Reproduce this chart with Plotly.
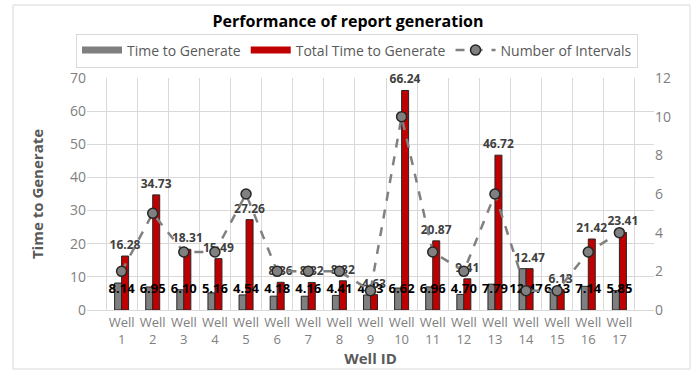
import plotly.graph_objects as go

wells = [f"Well<br>{i}" for i in range(1, 18)]
time_to_generate = [8.14, 6.95, 6.10, 5.16, 4.54, 4.18, 4.16, 4.41, 4.53, 6.62, 6.96, 4.70, 7.79, 12.47, 6.13, 7.14, 5.85]
total_time = [16.28, 34.73, 18.31, 15.49, 27.26, 8.36, 8.32, 8.82, 4.63, 66.24, 20.87, 9.41, 46.72, 12.47, 6.13, 21.42, 23.41]
intervals = [2, 5, 3, 3, 6, 2, 2, 2, 1, 10, 3, 2, 6, 1, 1, 3, 4]

FONT = "Open Sans"
GRAY_TXT = "#808080"
GRAY_BAR = "#7f7f7f"
RED_BAR = "#c00000"
LABEL_Y = 6.0  # vertical position of the in-bar labels (axis units)

W, H = 694, 370
L, R, T, B = 87, 40, 78, 60
PW, PH = W - L - R, H - T - B


def px(x):
    return (x - L) / PW


def py(y):
    return (H - B - y) / PH


fig = go.Figure()
fig.add_trace(go.Bar(
    x=wells, y=time_to_generate, name="Time to Generate", showlegend=False,
    marker=dict(color=GRAY_BAR, line=dict(color="#262626", width=1)),
))
fig.add_trace(go.Bar(
    x=wells, y=total_time, name="Total Time to Generate", showlegend=False,
    marker=dict(color=RED_BAR, line=dict(color="#262626", width=1)),
    text=[f"{v:.2f}" for v in total_time], textposition="outside",
    constraintext="none", textangle=0,
    textfont=dict(family=FONT, size=12, color="#404040", weight="bold"),
    cliponaxis=False,
))
# legend-only entries with wide swatches
fig.add_trace(go.Scatter(x=[None], y=[None], mode="lines", name="Time to Generate",
                         line=dict(color=GRAY_BAR, width=7)))
fig.add_trace(go.Scatter(x=[None], y=[None], mode="lines", name="Total Time to Generate",
                         line=dict(color=RED_BAR, width=7)))
fig.add_trace(go.Scatter(
    x=wells, y=intervals, name="Number of Intervals", yaxis="y2",
    mode="lines+markers",
    line=dict(color="#808080", width=2.5, dash="dash"),
    marker=dict(symbol="circle", size=10, color="#808080", line=dict(color="#262626", width=1.5)),
))
fig.add_trace(go.Scatter(
    x=wells, y=[LABEL_Y] * len(wells), mode="text", showlegend=False,
    text=[f"{v:.2f}" for v in time_to_generate], textposition="middle center",
    textfont=dict(family=FONT, size=13, color="#000000", weight="bold"),
    hoverinfo="skip", cliponaxis=False,
))

fig.update_layout(
    width=W, height=H,
    margin=dict(l=L, r=R, t=T, b=B, autoexpand=False),
    paper_bgcolor="white", plot_bgcolor="white",
    font=dict(family=FONT, color=GRAY_TXT, size=13),
    title=dict(text="<b>Performance of report generation</b>", x=348 / W, xanchor="center",
               y=1 - 21 / H, yanchor="middle", font=dict(size=16, color="#000000", family=FONT)),
    barmode="group", bargap=0.55, bargroupgap=0.0,
    showlegend=True,
    legend=dict(orientation="h", x=px(357), xanchor="center", y=py(50.5), yanchor="middle",
                bordercolor="#d9d9d9", borderwidth=1, font=dict(size=14, color="#595959"),
                itemwidth=40, tracegroupgap=0),
    xaxis=dict(
        title=dict(text="<b>Well ID</b>", font=dict(size=15, color="#595959"), standoff=0),
        tickson="boundaries", showgrid=True, gridcolor="#d9d9d9", gridwidth=1, tickangle=0,
        tickfont=dict(size=13, color=GRAY_TXT), ticks="", showline=True, linecolor="#d9d9d9",
        automargin=False,
    ),
    yaxis=dict(
        title=dict(text="<b>Time to Generate</b>", font=dict(size=15, color="#595959"), standoff=22),
        range=[0, 70], dtick=10, showgrid=True, gridcolor="#d9d9d9", zeroline=False,
        tickfont=dict(size=14, color=GRAY_TXT), ticks="", automargin=True,
    ),
    yaxis2=dict(
        overlaying="y", side="right", range=[0, 12], dtick=2, showgrid=False, zeroline=False,
        tickfont=dict(size=14, color=GRAY_TXT), ticks="", automargin=False,
    ),
    shapes=[dict(type="rect", xref="paper", yref="paper",
                 x0=px(13), x1=px(690), y0=py(369), y1=py(5),
                 line=dict(color="#d9d9d9", width=1), layer="below")],
)

fig.write_html("out.html", config={"displayModeBar": False},
               post_script="document.body.style.margin='0px';")
